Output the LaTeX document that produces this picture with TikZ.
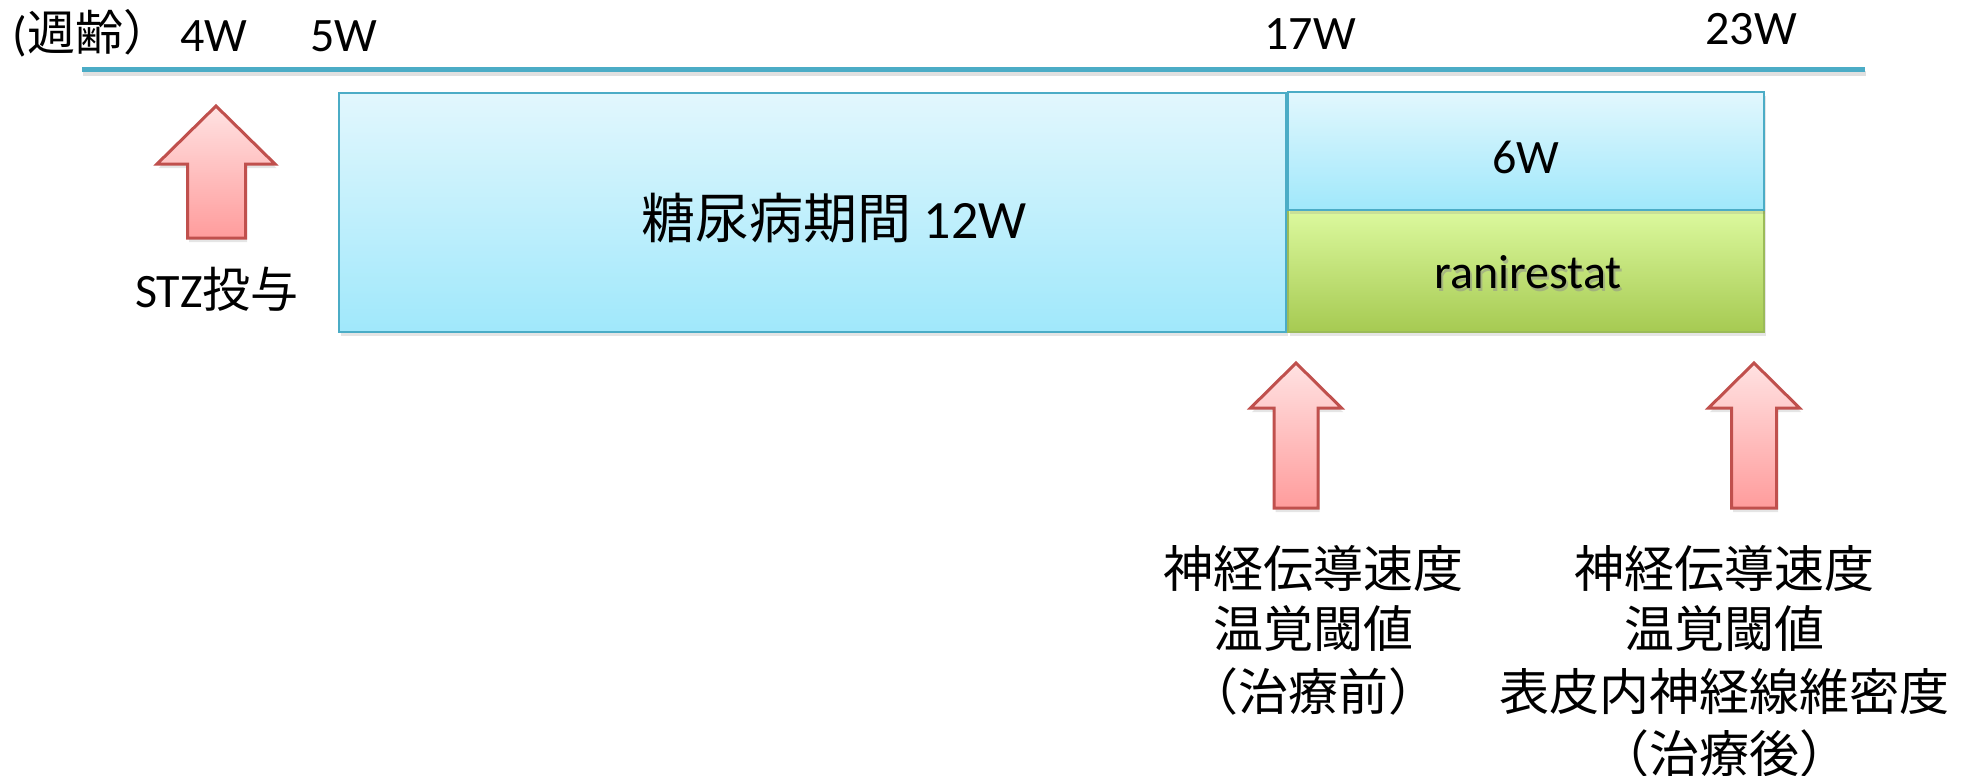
\documentclass[tikz,border=0pt]{standalone}
\usepackage{fontspec}
\setmainfont{Carlito}
\newfontfamily\jp{Noto Sans CJK JP}
\usetikzlibrary{shadows}
\definecolor{lineblue}{RGB}{75,172,198}
\definecolor{boxtop}{RGB}{226,247,253}
\definecolor{boxbot}{RGB}{160,232,251}
\definecolor{greentop}{RGB}{220,249,158}
\definecolor{greenbot}{RGB}{166,202,82}
\definecolor{greenedge}{RGB}{155,187,89}
\definecolor{arrtop}{RGB}{255,226,226}
\definecolor{arrbot}{RGB}{255,156,156}
\definecolor{arredge}{RGB}{192,80,77}
\begin{document}
\begin{tikzpicture}[x=1pt,y=-1pt,
  softshadow/.style={drop shadow={opacity=0.2,shadow xshift=1.5pt,shadow yshift=-4pt}},
  bluebox/.style={draw=lineblue,line width=2.8pt,top color=boxtop,bottom color=boxbot,inner sep=0pt,softshadow},
  greenbox/.style={draw=greenedge,line width=2pt,top color=greentop,bottom color=greenbot,inner sep=0pt,softshadow},
  uparrow/.style={draw=arredge,line width=3pt,top color=arrtop,bottom color=arrbot,line join=miter,softshadow},
  lbl/.style={anchor=base,inner sep=0pt,font=\fontsize{48}{58}\selectfont},
  jlbl/.style={anchor=base,inner sep=0pt,font=\fontsize{50}{60}\selectfont\jp},
  timeline/.style={draw=lineblue,line width=5pt}
]
\useasboundingbox (0,0) rectangle (1975,776);
\fill[white] (0,0) rectangle (1975,776);

% timeline
\coordinate (tl0) at (82,69.5);
\coordinate (tl1) at (1865,69.5);
\draw[line width=5pt,black,opacity=0.12] ([shift={(1,4)}]tl0) -- ([shift={(1,4)}]tl1);
\draw[timeline] (tl0) -- (tl1);

% axis labels
\node[lbl] (age) at (92,51) {({\jp 週齢）}};
\node[lbl] (w4) at (214,52) {4W};
\node[lbl] (w5) at (344,52) {5W};
\node[lbl] (w17) at (1310,50) {17W};
\node[lbl] (w23) at (1751,45) {23W};

% boxes
\node[bluebox,minimum width=947pt,minimum height=239pt] (diab) at (812.5,212.5) {};
\node[greenbox,minimum width=476pt,minimum height=122pt] (rani) at (1526,271) {};
\node[bluebox,minimum width=476pt,minimum height=118pt] (six) at (1526,151) {};

\node[lbl,font=\fontsize{54}{60}\selectfont] (diabtxt) at (834,238) {{\jp 糖尿病期間} 12W};
\node[lbl] (sixtxt) at (1526,173) {6W};
\node[lbl,text=black!45,opacity=0.5] (ranishadow) at (1530,291) {ranirestat};
\node[lbl] (ranitxt) at (1528,288) {ranirestat};

% arrows
\path[uparrow] (216,106) -- (275,164) -- (245.5,164) -- (245.5,238) -- (187.5,238) -- (187.5,164) -- (157,164) -- cycle;
\path[uparrow] (1296,363) -- (1341.5,408) -- (1318,408) -- (1318,508) -- (1274,508) -- (1274,408) -- (1250.5,408) -- cycle;
\path[uparrow] (1754,363) -- (1799.5,408) -- (1776.5,408) -- (1776.5,508) -- (1731.5,508) -- (1731.5,408) -- (1708.5,408) -- cycle;

% labels
\node[lbl] (stz) at (217,307) {STZ{\jp 投与}};

\node[jlbl] (pre1) at (1313,587) {神経伝導速度};
\node[jlbl] (pre2) at (1313,647) {温覚閾値};
\node[jlbl] (pre3) at (1313,710) {（治療前）};

\node[jlbl] (post1) at (1724,587) {神経伝導速度};
\node[jlbl] (post2) at (1724,647) {温覚閾値};
\node[jlbl] (post3) at (1724,710) {表皮内神経線維密度};
\node[jlbl] (post4) at (1724,772) {（治療後）};
\end{tikzpicture}
\end{document}
